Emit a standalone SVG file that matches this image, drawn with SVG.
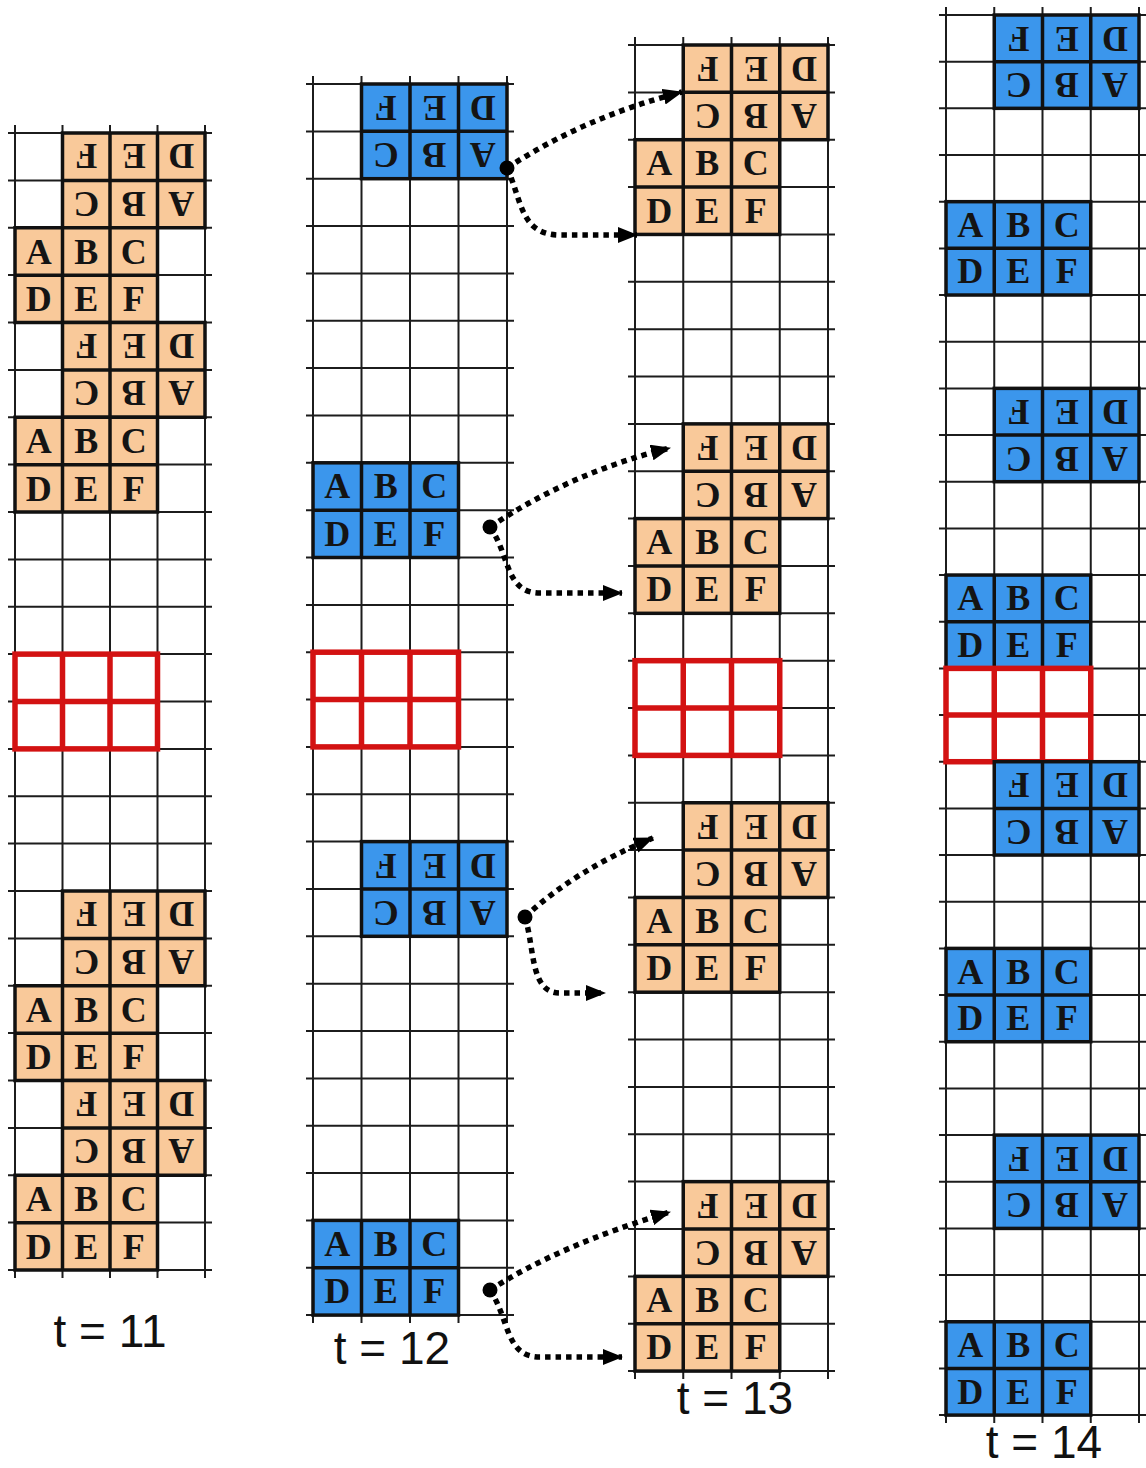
<svg xmlns="http://www.w3.org/2000/svg" width="1146" height="1468" viewBox="0 0 1146 1468">
<style>
.g{fill:none;stroke:#1c1c1c;stroke-width:2}
.o{fill:#F9C99A;stroke:#111;stroke-width:3.5}
.b{fill:#3B96EC;stroke:#111;stroke-width:3.5}
.il{fill:none;stroke:#111;stroke-width:3.5}
.r{fill:none;stroke:#D31212;stroke-width:5.5}
.L{font-family:"Liberation Serif","Times New Roman",serif;font-weight:bold;font-size:36px;fill:#141414;text-anchor:middle}
.t{font-family:"Liberation Sans",Arial,sans-serif;font-size:46px;fill:#111;text-anchor:middle}
.c{fill:none;stroke:#000;stroke-width:5.5;stroke-dasharray:5.5 5}
</style>
<defs>
<marker id="ah" markerUnits="userSpaceOnUse" markerWidth="20" markerHeight="16" viewBox="0 0 20 16" refX="19" refY="8" orient="auto"><path d="M0 0L20 8L0 16z" fill="#000"/></marker>
</defs>
<rect width="1146" height="1468" fill="#fff"/>

<!-- Column t=11 -->
<g id="col11">
<path class="g" d="M8 133H212M8 180.4H212M8 227.8H212M8 275.1H212M8 322.5H212M8 369.9H212M8 417.3H212M8 464.6H212M8 512H212M8 559.4H212M8 606.8H212M8 654.1H212M8 701.5H212M8 748.9H212M8 796.3H212M8 843.6H212M8 891H212M8 938.4H212M8 985.8H212M8 1033.1H212M8 1080.5H212M8 1127.9H212M8 1175.3H212M8 1222.6H212M8 1270H212M15 125V1278M62.5 125V1278M110 125V1278M157.5 125V1278M205 125V1278"/>
<g id="c11_r1" transform="translate(62.5 133) rotate(180 71.25 47.375)"><rect class="o" width="142.5" height="94.75"/><path class="il" d="M47.5 0V94.75M95 0V94.75M0 47.375H142.5"/><text class="L" x="23.75" y="35.9">A</text><text class="L" x="71.25" y="35.9">B</text><text class="L" x="118.75" y="35.9">C</text><text class="L" x="23.75" y="83.3">D</text><text class="L" x="71.25" y="83.3">E</text><text class="L" x="118.75" y="83.3">F</text></g>
<g id="c11_n1" transform="translate(15 227.75)"><rect class="o" width="142.5" height="94.75"/><path class="il" d="M47.5 0V94.75M95 0V94.75M0 47.375H142.5"/><text class="L" x="23.75" y="35.9">A</text><text class="L" x="71.25" y="35.9">B</text><text class="L" x="118.75" y="35.9">C</text><text class="L" x="23.75" y="83.3">D</text><text class="L" x="71.25" y="83.3">E</text><text class="L" x="118.75" y="83.3">F</text></g>
<g id="c11_r2" transform="translate(62.5 322.5) rotate(180 71.25 47.375)"><rect class="o" width="142.5" height="94.75"/><path class="il" d="M47.5 0V94.75M95 0V94.75M0 47.375H142.5"/><text class="L" x="23.75" y="35.9">A</text><text class="L" x="71.25" y="35.9">B</text><text class="L" x="118.75" y="35.9">C</text><text class="L" x="23.75" y="83.3">D</text><text class="L" x="71.25" y="83.3">E</text><text class="L" x="118.75" y="83.3">F</text></g>
<g id="c11_n2" transform="translate(15 417.25)"><rect class="o" width="142.5" height="94.75"/><path class="il" d="M47.5 0V94.75M95 0V94.75M0 47.375H142.5"/><text class="L" x="23.75" y="35.9">A</text><text class="L" x="71.25" y="35.9">B</text><text class="L" x="118.75" y="35.9">C</text><text class="L" x="23.75" y="83.3">D</text><text class="L" x="71.25" y="83.3">E</text><text class="L" x="118.75" y="83.3">F</text></g>
<g id="c11_red" transform="translate(15 654.125)"><rect class="r" width="142.5" height="94.75"/><path class="r" d="M47.5 0V94.75M95 0V94.75M0 47.375H142.5"/></g>
<g id="c11_r3" transform="translate(62.5 891) rotate(180 71.25 47.375)"><rect class="o" width="142.5" height="94.75"/><path class="il" d="M47.5 0V94.75M95 0V94.75M0 47.375H142.5"/><text class="L" x="23.75" y="35.9">A</text><text class="L" x="71.25" y="35.9">B</text><text class="L" x="118.75" y="35.9">C</text><text class="L" x="23.75" y="83.3">D</text><text class="L" x="71.25" y="83.3">E</text><text class="L" x="118.75" y="83.3">F</text></g>
<g id="c11_n3" transform="translate(15 985.75)"><rect class="o" width="142.5" height="94.75"/><path class="il" d="M47.5 0V94.75M95 0V94.75M0 47.375H142.5"/><text class="L" x="23.75" y="35.9">A</text><text class="L" x="71.25" y="35.9">B</text><text class="L" x="118.75" y="35.9">C</text><text class="L" x="23.75" y="83.3">D</text><text class="L" x="71.25" y="83.3">E</text><text class="L" x="118.75" y="83.3">F</text></g>
<g id="c11_r4" transform="translate(62.5 1080.5) rotate(180 71.25 47.375)"><rect class="o" width="142.5" height="94.75"/><path class="il" d="M47.5 0V94.75M95 0V94.75M0 47.375H142.5"/><text class="L" x="23.75" y="35.9">A</text><text class="L" x="71.25" y="35.9">B</text><text class="L" x="118.75" y="35.9">C</text><text class="L" x="23.75" y="83.3">D</text><text class="L" x="71.25" y="83.3">E</text><text class="L" x="118.75" y="83.3">F</text></g>
<g id="c11_n4" transform="translate(15 1175.25)"><rect class="o" width="142.5" height="94.75"/><path class="il" d="M47.5 0V94.75M95 0V94.75M0 47.375H142.5"/><text class="L" x="23.75" y="35.9">A</text><text class="L" x="71.25" y="35.9">B</text><text class="L" x="118.75" y="35.9">C</text><text class="L" x="23.75" y="83.3">D</text><text class="L" x="71.25" y="83.3">E</text><text class="L" x="118.75" y="83.3">F</text></g>
<text id="lbl11" class="t" x="110" y="1347">t = 11</text>
</g>

<!-- Column t=12 -->
<g id="col12">
<path class="g" d="M306 84H514M306 131.4H514M306 178.7H514M306 226.1H514M306 273.4H514M306 320.8H514M306 368.1H514M306 415.5H514M306 462.8H514M306 510.2H514M306 557.5H514M306 604.9H514M306 652.2H514M306 699.6H514M306 746.9H514M306 794.3H514M306 841.6H514M306 889H514M306 936.3H514M306 983.7H514M306 1031H514M306 1078.4H514M306 1125.7H514M306 1173.1H514M306 1220.4H514M306 1267.8H514M306 1315.1H514M313 76V1323M361.5 76V1323M410 76V1323M458.5 76V1323M507 76V1323"/>
<g id="c12_r1" transform="translate(361.5 84) rotate(180 72.75 47.35)"><rect class="b" width="145.5" height="94.7"/><path class="il" d="M48.5 0V94.7M97 0V94.7M0 47.35H145.5"/><text class="L" x="24.25" y="35.5">A</text><text class="L" x="72.75" y="35.5">B</text><text class="L" x="121.25" y="35.5">C</text><text class="L" x="24.25" y="82.8">D</text><text class="L" x="72.75" y="82.8">E</text><text class="L" x="121.25" y="82.8">F</text></g>
<g id="c12_n1" transform="translate(313 462.8)"><rect class="b" width="145.5" height="94.7"/><path class="il" d="M48.5 0V94.7M97 0V94.7M0 47.35H145.5"/><text class="L" x="24.25" y="35.5">A</text><text class="L" x="72.75" y="35.5">B</text><text class="L" x="121.25" y="35.5">C</text><text class="L" x="24.25" y="82.8">D</text><text class="L" x="72.75" y="82.8">E</text><text class="L" x="121.25" y="82.8">F</text></g>
<g id="c12_red" transform="translate(313 652.2)"><rect class="r" width="145.5" height="94.7"/><path class="r" d="M48.5 0V94.7M97 0V94.7M0 47.35H145.5"/></g>
<g id="c12_r2" transform="translate(361.5 841.6) rotate(180 72.75 47.35)"><rect class="b" width="145.5" height="94.7"/><path class="il" d="M48.5 0V94.7M97 0V94.7M0 47.35H145.5"/><text class="L" x="24.25" y="35.5">A</text><text class="L" x="72.75" y="35.5">B</text><text class="L" x="121.25" y="35.5">C</text><text class="L" x="24.25" y="82.8">D</text><text class="L" x="72.75" y="82.8">E</text><text class="L" x="121.25" y="82.8">F</text></g>
<g id="c12_n2" transform="translate(313 1220.4)"><rect class="b" width="145.5" height="94.7"/><path class="il" d="M48.5 0V94.7M97 0V94.7M0 47.35H145.5"/><text class="L" x="24.25" y="35.5">A</text><text class="L" x="72.75" y="35.5">B</text><text class="L" x="121.25" y="35.5">C</text><text class="L" x="24.25" y="82.8">D</text><text class="L" x="72.75" y="82.8">E</text><text class="L" x="121.25" y="82.8">F</text></g>
<text id="lbl12" class="t" x="392" y="1364">t = 12</text>
</g>

<!-- Column t=13 -->
<g id="col13">
<path class="g" d="M628 45H835M628 92.4H835M628 139.7H835M628 187.1H835M628 234.4H835M628 281.8H835M628 329.2H835M628 376.5H835M628 423.9H835M628 471.2H835M628 518.6H835M628 566H835M628 613.3H835M628 660.7H835M628 708H835M628 755.4H835M628 802.8H835M628 850.1H835M628 897.5H835M628 944.8H835M628 992.2H835M628 1039.6H835M628 1086.9H835M628 1134.3H835M628 1181.6H835M628 1229H835M628 1276.4H835M628 1323.7H835M628 1371.1H835M635 37V1379M683.25 37V1379M731.5 37V1379M779.75 37V1379M828 37V1379"/>
<g id="c13_r1" transform="translate(683.25 45) rotate(180 72.375 47.36)"><rect class="o" width="144.75" height="94.72"/><path class="il" d="M48.25 0V94.72M96.5 0V94.72M0 47.36H144.75"/><text class="L" x="24.125" y="35.5">A</text><text class="L" x="72.375" y="35.5">B</text><text class="L" x="120.625" y="35.5">C</text><text class="L" x="24.125" y="82.8">D</text><text class="L" x="72.375" y="82.8">E</text><text class="L" x="120.625" y="82.8">F</text></g>
<g id="c13_n1" transform="translate(635 139.72)"><rect class="o" width="144.75" height="94.72"/><path class="il" d="M48.25 0V94.72M96.5 0V94.72M0 47.36H144.75"/><text class="L" x="24.125" y="35.5">A</text><text class="L" x="72.375" y="35.5">B</text><text class="L" x="120.625" y="35.5">C</text><text class="L" x="24.125" y="82.8">D</text><text class="L" x="72.375" y="82.8">E</text><text class="L" x="120.625" y="82.8">F</text></g>
<g id="c13_r2" transform="translate(683.25 423.88) rotate(180 72.375 47.36)"><rect class="o" width="144.75" height="94.72"/><path class="il" d="M48.25 0V94.72M96.5 0V94.72M0 47.36H144.75"/><text class="L" x="24.125" y="35.5">A</text><text class="L" x="72.375" y="35.5">B</text><text class="L" x="120.625" y="35.5">C</text><text class="L" x="24.125" y="82.8">D</text><text class="L" x="72.375" y="82.8">E</text><text class="L" x="120.625" y="82.8">F</text></g>
<g id="c13_n2" transform="translate(635 518.6)"><rect class="o" width="144.75" height="94.72"/><path class="il" d="M48.25 0V94.72M96.5 0V94.72M0 47.36H144.75"/><text class="L" x="24.125" y="35.5">A</text><text class="L" x="72.375" y="35.5">B</text><text class="L" x="120.625" y="35.5">C</text><text class="L" x="24.125" y="82.8">D</text><text class="L" x="72.375" y="82.8">E</text><text class="L" x="120.625" y="82.8">F</text></g>
<g id="c13_red" transform="translate(635 660.68)"><rect class="r" width="144.75" height="94.72"/><path class="r" d="M48.25 0V94.72M96.5 0V94.72M0 47.36H144.75"/></g>
<g id="c13_r3" transform="translate(683.25 802.76) rotate(180 72.375 47.36)"><rect class="o" width="144.75" height="94.72"/><path class="il" d="M48.25 0V94.72M96.5 0V94.72M0 47.36H144.75"/><text class="L" x="24.125" y="35.5">A</text><text class="L" x="72.375" y="35.5">B</text><text class="L" x="120.625" y="35.5">C</text><text class="L" x="24.125" y="82.8">D</text><text class="L" x="72.375" y="82.8">E</text><text class="L" x="120.625" y="82.8">F</text></g>
<g id="c13_n3" transform="translate(635 897.48)"><rect class="o" width="144.75" height="94.72"/><path class="il" d="M48.25 0V94.72M96.5 0V94.72M0 47.36H144.75"/><text class="L" x="24.125" y="35.5">A</text><text class="L" x="72.375" y="35.5">B</text><text class="L" x="120.625" y="35.5">C</text><text class="L" x="24.125" y="82.8">D</text><text class="L" x="72.375" y="82.8">E</text><text class="L" x="120.625" y="82.8">F</text></g>
<g id="c13_r4" transform="translate(683.25 1181.64) rotate(180 72.375 47.36)"><rect class="o" width="144.75" height="94.72"/><path class="il" d="M48.25 0V94.72M96.5 0V94.72M0 47.36H144.75"/><text class="L" x="24.125" y="35.5">A</text><text class="L" x="72.375" y="35.5">B</text><text class="L" x="120.625" y="35.5">C</text><text class="L" x="24.125" y="82.8">D</text><text class="L" x="72.375" y="82.8">E</text><text class="L" x="120.625" y="82.8">F</text></g>
<g id="c13_n4" transform="translate(635 1276.36)"><rect class="o" width="144.75" height="94.72"/><path class="il" d="M48.25 0V94.72M96.5 0V94.72M0 47.36H144.75"/><text class="L" x="24.125" y="35.5">A</text><text class="L" x="72.375" y="35.5">B</text><text class="L" x="120.625" y="35.5">C</text><text class="L" x="24.125" y="82.8">D</text><text class="L" x="72.375" y="82.8">E</text><text class="L" x="120.625" y="82.8">F</text></g>
<text id="lbl13" class="t" x="735" y="1414">t = 13</text>
</g>

<!-- Column t=14 -->
<g id="col14">
<path class="g" d="M939 15H1146M939 61.7H1146M939 108.3H1146M939 155H1146M939 201.7H1146M939 248.4H1146M939 295H1146M939 341.7H1146M939 388.4H1146M939 435H1146M939 481.7H1146M939 528.4H1146M939 575H1146M939 621.7H1146M939 668.4H1146M939 715.1H1146M939 761.7H1146M939 808.4H1146M939 855.1H1146M939 901.7H1146M939 948.4H1146M939 995.1H1146M939 1041.7H1146M939 1088.4H1146M939 1135.1H1146M939 1181.8H1146M939 1228.4H1146M939 1275.1H1146M939 1321.8H1146M939 1368.4H1146M939 1415.1H1146M946 7V1423M994.25 7V1423M1042.5 7V1423M1090.75 7V1423M1139 7V1423"/>
<g id="c14_r1" transform="translate(994.25 15) rotate(180 72.375 46.67)"><rect class="b" width="144.75" height="93.34"/><path class="il" d="M48.25 0V93.34M96.5 0V93.34M0 46.67H144.75"/><text class="L" x="24.125" y="35.2">A</text><text class="L" x="72.375" y="35.2">B</text><text class="L" x="120.625" y="35.2">C</text><text class="L" x="24.125" y="81.8">D</text><text class="L" x="72.375" y="81.8">E</text><text class="L" x="120.625" y="81.8">F</text></g>
<g id="c14_n1" transform="translate(946 201.68)"><rect class="b" width="144.75" height="93.34"/><path class="il" d="M48.25 0V93.34M96.5 0V93.34M0 46.67H144.75"/><text class="L" x="24.125" y="35.2">A</text><text class="L" x="72.375" y="35.2">B</text><text class="L" x="120.625" y="35.2">C</text><text class="L" x="24.125" y="81.8">D</text><text class="L" x="72.375" y="81.8">E</text><text class="L" x="120.625" y="81.8">F</text></g>
<g id="c14_r2" transform="translate(994.25 388.36) rotate(180 72.375 46.67)"><rect class="b" width="144.75" height="93.34"/><path class="il" d="M48.25 0V93.34M96.5 0V93.34M0 46.67H144.75"/><text class="L" x="24.125" y="35.2">A</text><text class="L" x="72.375" y="35.2">B</text><text class="L" x="120.625" y="35.2">C</text><text class="L" x="24.125" y="81.8">D</text><text class="L" x="72.375" y="81.8">E</text><text class="L" x="120.625" y="81.8">F</text></g>
<g id="c14_n2" transform="translate(946 575.04)"><rect class="b" width="144.75" height="93.34"/><path class="il" d="M48.25 0V93.34M96.5 0V93.34M0 46.67H144.75"/><text class="L" x="24.125" y="35.2">A</text><text class="L" x="72.375" y="35.2">B</text><text class="L" x="120.625" y="35.2">C</text><text class="L" x="24.125" y="81.8">D</text><text class="L" x="72.375" y="81.8">E</text><text class="L" x="120.625" y="81.8">F</text></g>
<g id="c14_red" transform="translate(946 668.38)"><rect class="r" width="144.75" height="93.34"/><path class="r" d="M48.25 0V93.34M96.5 0V93.34M0 46.67H144.75"/></g>
<g id="c14_r3" transform="translate(994.25 761.72) rotate(180 72.375 46.67)"><rect class="b" width="144.75" height="93.34"/><path class="il" d="M48.25 0V93.34M96.5 0V93.34M0 46.67H144.75"/><text class="L" x="24.125" y="35.2">A</text><text class="L" x="72.375" y="35.2">B</text><text class="L" x="120.625" y="35.2">C</text><text class="L" x="24.125" y="81.8">D</text><text class="L" x="72.375" y="81.8">E</text><text class="L" x="120.625" y="81.8">F</text></g>
<g id="c14_n3" transform="translate(946 948.4)"><rect class="b" width="144.75" height="93.34"/><path class="il" d="M48.25 0V93.34M96.5 0V93.34M0 46.67H144.75"/><text class="L" x="24.125" y="35.2">A</text><text class="L" x="72.375" y="35.2">B</text><text class="L" x="120.625" y="35.2">C</text><text class="L" x="24.125" y="81.8">D</text><text class="L" x="72.375" y="81.8">E</text><text class="L" x="120.625" y="81.8">F</text></g>
<g id="c14_r4" transform="translate(994.25 1135.08) rotate(180 72.375 46.67)"><rect class="b" width="144.75" height="93.34"/><path class="il" d="M48.25 0V93.34M96.5 0V93.34M0 46.67H144.75"/><text class="L" x="24.125" y="35.2">A</text><text class="L" x="72.375" y="35.2">B</text><text class="L" x="120.625" y="35.2">C</text><text class="L" x="24.125" y="81.8">D</text><text class="L" x="72.375" y="81.8">E</text><text class="L" x="120.625" y="81.8">F</text></g>
<g id="c14_n4" transform="translate(946 1321.76)"><rect class="b" width="144.75" height="93.34"/><path class="il" d="M48.25 0V93.34M96.5 0V93.34M0 46.67H144.75"/><text class="L" x="24.125" y="35.2">A</text><text class="L" x="72.375" y="35.2">B</text><text class="L" x="120.625" y="35.2">C</text><text class="L" x="24.125" y="81.8">D</text><text class="L" x="72.375" y="81.8">E</text><text class="L" x="120.625" y="81.8">F</text></g>
<text id="lbl14" class="t" x="1044" y="1458" font-size="44">t = 14</text>
</g>

<!-- Connectors -->
<g id="connectors">
<path class="c" d="M507 168Q585 117 682 92" marker-end="url(#ah)"/>
<path class="c" d="M507 168C522 200 520 235 560 235L637 235" marker-end="url(#ah)"/>
<circle cx="507" cy="168" r="7.5" fill="#000"/>
<path class="c" d="M490 527Q572 472 670 448" marker-end="url(#ah)"/>
<path class="c" d="M490 527C510 555 505 593 540 593L622 593" marker-end="url(#ah)"/>
<circle cx="490" cy="527" r="7.5" fill="#000"/>
<path class="c" d="M525 917Q575 870 653 838" marker-end="url(#ah)"/>
<path class="c" d="M525 917C535 950 530 993 560 993L605 993" marker-end="url(#ah)"/>
<circle cx="525" cy="917" r="7.5" fill="#000"/>
<path class="c" d="M490 1290Q560 1245 670 1212" marker-end="url(#ah)"/>
<path class="c" d="M490 1290C510 1320 505 1357 540 1357L622 1357" marker-end="url(#ah)"/>
<circle cx="490" cy="1290" r="7.5" fill="#000"/>
</g>
</svg>
